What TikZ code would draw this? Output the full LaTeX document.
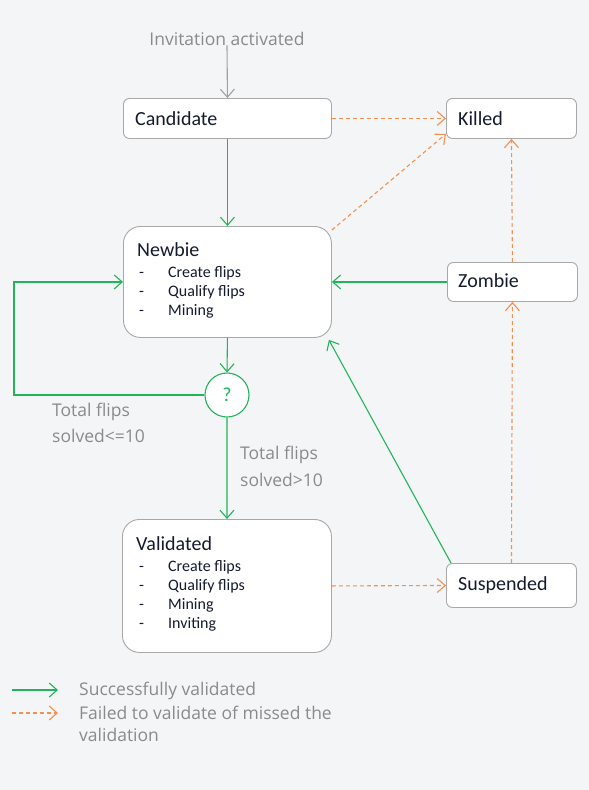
\documentclass[tikz,border=0pt]{standalone}
\usepackage{fontspec}
\setmainfont{Carlito}
\newfontfamily\labelfont{Open Sans}
\usetikzlibrary{arrows.meta}
\definecolor{okgreen}{HTML}{22B45A}
\definecolor{failorange}{HTML}{F39150}
\definecolor{labelgray}{HTML}{8A8A8A}
\definecolor{boxgray}{HTML}{A8A8A8}
\definecolor{bg}{HTML}{F4F5F7}
\definecolor{ink}{HTML}{141B2E}
\tikzset{
 state/.style={draw=boxgray,fill=white,line width=0.9pt,rounded corners=6pt,anchor=north west,inner sep=0pt},
 bigstate/.style={state,rounded corners=17pt},
 title/.style={anchor=base west,inner sep=0pt,text=ink,font=\fontsize{20}{24}\selectfont},
 item/.style={anchor=base west,inner sep=0pt,text=ink,font=\fontsize{16}{19}\selectfont},
 note/.style={anchor=base west,inner sep=0pt,text=labelgray,font=\labelfont\fontsize{17.5}{21}\selectfont},
 ok/.style={draw=okgreen,line width=1.1pt,-{Straight Barb[length=8pt,width=14pt]}},
 fail/.style={draw=failorange,line width=1.1pt,dash pattern=on 4pt off 3pt,-{Straight Barb[length=8pt,width=14pt]}},
 start/.style={draw=labelgray!80,line width=1.1pt,-{Straight Barb[length=8pt,width=14pt]}},
}
\begin{document}
\begin{tikzpicture}[x=1pt,y=-1pt]
\useasboundingbox[fill=bg] (0,0) rectangle (589,790);

% boxes
\node[state,minimum width=208pt,minimum height=40pt] (candidate) at (123,98) {};
\node[state,minimum width=130pt,minimum height=40pt] (killed) at (446,98) {};
\node[bigstate,minimum width=208pt,minimum height=111pt] (newbie) at (123,226) {};
\node[state,minimum width=130pt,minimum height=39pt] (zombie) at (447,262) {};
\node[bigstate,minimum width=209pt,minimum height=133pt] (validated) at (122,519) {};
\node[state,minimum width=130pt,minimum height=44pt] (suspended) at (446,563) {};
\node[draw=okgreen,fill=white,line width=1.1pt,circle,minimum size=44pt,inner sep=0pt,
 text=okgreen,font=\fontsize{20}{24}\selectfont] (check) at (227,395) {?};

% texts
\node[note,anchor=base] (invite) at (227,45) {Invitation activated};
\node[title] at (135,125) {Candidate};
\node[title] at (458,125) {Killed};
\node[title] at (458,287) {Zombie};
\node[title] at (458,590) {Suspended};
\node[title] at (137,256) {Newbie};
\foreach \t [count=\i] in {Create flips,Qualify flips,Mining}
{
 \node[item] at (139,258+19*\i) {-};
 \node[item] at (168,258+19*\i) {\t};
}
\node[title] at (136,550) {Validated};
\foreach \t [count=\i] in {Create flips,Qualify flips,Mining,Inviting}
{
 \node[item] at (139,552+19*\i) {-};
 \node[item] at (168,552+19*\i) {\t};
}
\node[note] at (52,416) {Total flips};
\node[note] at (52,442) {solved<=10};
\node[note] at (240,459) {Total flips};
\node[note] at (240,486) {solved>10};

% connectors
\draw[start] (invite.south) -- (candidate.north);
\draw[ok] (candidate.south) -- (newbie.north);
\draw[fail] (candidate.east) -- (killed.west);
\draw[fail] ([yshift=-4pt]newbie.north east) -- ([yshift=5pt]killed.south west);
\draw[fail] (zombie.north) -- (killed.south);
\draw[fail] (suspended.north) -- (zombie.south);
\draw[ok] (zombie.west) -- (newbie.east);
\draw[ok] ([xshift=5pt]suspended.north west) -- ([xshift=-3pt,yshift=-2pt]newbie.south east);
\draw[ok] (newbie.south) -- (check.north);
\coordinate (loop) at (14,395);
\draw[ok] (check.west) -- (loop) |- (newbie.west);
\draw[ok] (check.south) -- (validated.north);
\draw[fail] (validated.east) -- (suspended.west);

% legend
\coordinate (okA) at (12,690);
\coordinate (okB) at (58,690);
\coordinate (failA) at (12,713);
\coordinate (failB) at (58,713);
\draw[ok] (okA) -- (okB);
\draw[fail] (failA) -- (failB);
\node[note] at (79,695) {Successfully validated};
\node[note] at (79,719) {Failed to validate of missed the};
\node[note] at (79,741) {validation};
\end{tikzpicture}
\end{document}
